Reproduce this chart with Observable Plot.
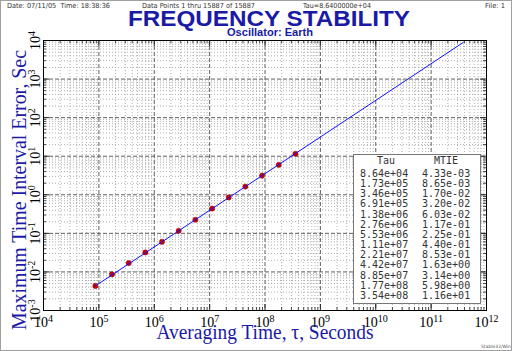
<!DOCTYPE html>
<html><head><meta charset="utf-8">
<script src="https://cdn.jsdelivr.net/npm/d3@7"></script>
<script src="https://cdn.jsdelivr.net/npm/@observablehq/plot@0.6"></script>
<style>body{margin:0;background:#fff}#chart{width:512px;height:351px;overflow:hidden}</style>
</head><body><div id="chart"></div>
<script>
// ---- data ----
const tau  = [8.64e4, 1.73e5, 3.46e5, 6.91e5, 1.38e6, 2.76e6, 5.53e6, 1.11e7, 2.21e7, 4.42e7, 8.85e7, 1.77e8, 3.54e8];
const mtie = [4.33e-3, 8.65e-3, 1.70e-2, 3.20e-2, 6.03e-2, 1.17e-1, 2.25e-1, 4.40e-1, 8.53e-1, 1.63e0, 3.14e0, 5.98e0, 1.16e1];
const fitTau  = [8.64e4, 3.8e11];
const fitMtie = [4.33e-3, 8.9e3];
const xDecades = [1e4, 1e5, 1e6, 1e7, 1e8, 1e9, 1e10, 1e11, 1e12];
const yDecades = [1e-3, 1e-2, 1e-1, 1e0, 1e1, 1e2, 1e3, 1e4];
const minorSteps = [2, 3, 4, 5, 6, 7, 8, 9];
const tableHeaders = ["Tau", "MTIE"];
const titleText = "FREQUENCY STABILITY";
const subtitleText = "Oscillator: Earth";
const xLabel = "Averaging Time, \u03c4, Seconds";
const yLabel = "Maximum Time Interval Error, Sec";
const headerTexts = ["Date: 07/11/05  Time: 18:38:36", "Data Points 1 thru 15887 of 15887", "Tau=8.6400000e+04", "File: 1"];
const footerText = "Stable32/Win";

// ---- derived ----
const points = tau.map((t, i) => ({tau: t, mtie: mtie[i]}));
const fit = fitTau.map((t, i) => ({tau: t, mtie: fitMtie[i]}));
const minorX = xDecades.slice(0, -1).flatMap(d => minorSteps.map(k => k * d));
const minorY = yDecades.slice(0, -1).flatMap(d => minorSteps.map(k => k * d));
const expLabel = d => "10|" + Math.round(Math.log10(d));
const fmtE = v => { const [m, e] = v.toExponential(2).split("e"); const s = e[0]; const n = e.slice(1).padStart(2, "0"); return m + "e" + s + n; };

const W = 512, H = 351, ML = 43, MR = 26, MT = 40, MB = 41;
const FW = W - ML - MR, FH = H - MT - MB;
const blue = "#1a1aa6";

const plot = Plot.plot({
  width: W, height: H, marginLeft: ML, marginRight: MR, marginTop: MT, marginBottom: MB,
  style: {background: "white", fontFamily: "'Liberation Serif', 'Times New Roman', serif", color: "black"},
  x: {type: "log", domain: [1e4, 1e12], axis: null},
  y: {type: "log", domain: [1e-3, 1e4], axis: null},
  marks: [
    Plot.gridX(minorX, {stroke: "#b0b0b0", strokeOpacity: 1, strokeDasharray: "1,2"}),
    Plot.gridY(minorY, {stroke: "#b0b0b0", strokeOpacity: 1, strokeDasharray: "1,2"}),
    Plot.gridX(xDecades, {stroke: "#606060", strokeOpacity: 1, strokeDasharray: "4,2"}),
    Plot.gridY(yDecades, {stroke: "#606060", strokeOpacity: 1, strokeDasharray: "4,2"}),
    Plot.tickX(minorX, {x: d => d, insetTop: FH - 3, stroke: "#444"}),
    Plot.tickX(minorX, {x: d => d, insetBottom: FH - 3, stroke: "#444"}),
    Plot.tickY(minorY, {y: d => d, insetRight: FW - 3, stroke: "#444"}),
    Plot.tickY(minorY, {y: d => d, insetLeft: FW - 3, stroke: "#444"}),
    Plot.tickX(xDecades, {x: d => d, insetTop: FH - 6, stroke: "#222"}),
    Plot.tickX(xDecades, {x: d => d, insetBottom: FH - 6, stroke: "#222"}),
    Plot.tickY(yDecades, {y: d => d, insetRight: FW - 6, stroke: "#222"}),
    Plot.tickY(yDecades, {y: d => d, insetLeft: FW - 6, stroke: "#222"}),
    Plot.frame({stroke: "black"}),
    Plot.text(xDecades, {x: d => d, frameAnchor: "bottom", dy: 16, text: expLabel, fontSize: 14, lineAnchor: "bottom", fill: "black"}),
    Plot.text(yDecades, {y: d => d, frameAnchor: "left", dx: -4, rotate: -90, text: expLabel, textAnchor: "middle", lineAnchor: "bottom", fontSize: 14, fill: "black"}),
    Plot.dot(points, {x: "tau", y: "mtie", r: 2.6, fill: "#cc0000", stroke: "#990000", strokeWidth: 0.5}),
    Plot.line(fit, {x: "tau", y: "mtie", stroke: "#1010ff", strokeWidth: 1})
  ]
});

// superscripts in tick labels
const ns = "http://www.w3.org/2000/svg";
plot.querySelectorAll('g[aria-label="text"] text').forEach(t => {
  const s = t.textContent;
  if (!s.includes("|")) return;
  const [base, ex] = s.split("|");
  t.textContent = "";
  const a = document.createElementNS(ns, "tspan"); a.textContent = base; t.appendChild(a);
  const b = document.createElementNS(ns, "tspan"); b.textContent = ex;
  b.setAttribute("dy", "-0.5em"); b.setAttribute("font-size", "10"); t.appendChild(b);
});

const svg = d3.select(plot);
svg.append("rect").attr("x", 0.5).attr("y", 0.5).attr("width", W - 1).attr("height", H - 1)
  .attr("fill", "none").attr("stroke", "#a0a0a0");

function txt(s, x, y, o) {
  const t = svg.append("text").attr("x", x).attr("y", y).attr("text-anchor", "start").text(s);
  for (const k in o) t.attr(k, o[k]);
  return t;
}

// header line
const hx = [7, 142, 303, 485], hw = [103, 113, 68, 20];
headerTexts.forEach((s, i) => txt(s, hx[i], 7.5, {"font-family": "'DejaVu Sans', sans-serif", "font-size": 7, fill: "#333",
  textLength: hw[i], lengthAdjust: "spacingAndGlyphs"}));

txt(titleText, 269, 26, {"text-anchor": "middle", "font-family": "'Liberation Sans', Arial, sans-serif", "font-weight": "bold",
  "font-size": 21.5, fill: blue, textLength: 282, lengthAdjust: "spacingAndGlyphs"});
txt(subtitleText, 270, 36, {"text-anchor": "middle", "font-family": "'Liberation Sans', Arial, sans-serif", "font-weight": "bold",
  "font-size": 11, fill: blue, textLength: 86, lengthAdjust: "spacingAndGlyphs"});

txt(yLabel, 0, 0, {transform: "translate(26,190) rotate(-90)", "text-anchor": "middle", "font-family": "'Liberation Serif', 'Times New Roman', serif",
  "font-size": 20, fill: blue, textLength: 280, lengthAdjust: "spacingAndGlyphs"});
txt(xLabel, 265, 339, {"text-anchor": "middle", "font-family": "'Liberation Serif', 'Times New Roman', serif",
  "font-size": 20, fill: blue, textLength: 217, lengthAdjust: "spacingAndGlyphs"});

txt(footerText, 496, 348, {"text-anchor": "middle", "font-family": "'DejaVu Sans', sans-serif", "font-size": 4.5, fill: "#555"});

// legend table
svg.append("rect").attr("x", 353.5).attr("y", 154.5).attr("width", 127).attr("height", 149)
  .attr("fill", "white").attr("stroke", "#777");
const tf = {"font-family": "'DejaVu Sans Mono', monospace", "font-size": 10, fill: "#333"};
txt(tableHeaders[0], 386, 164, {...tf, "text-anchor": "middle"});
txt(tableHeaders[1], 446, 164, {...tf, "text-anchor": "middle"});
tau.forEach((t, i) => {
  const y = 177 + i * 10.15;
  txt(fmtE(t), 360, y, tf);
  txt(fmtE(mtie[i]), 422, y, tf);
});

document.getElementById("chart").appendChild(plot);
</script>
</body></html>
